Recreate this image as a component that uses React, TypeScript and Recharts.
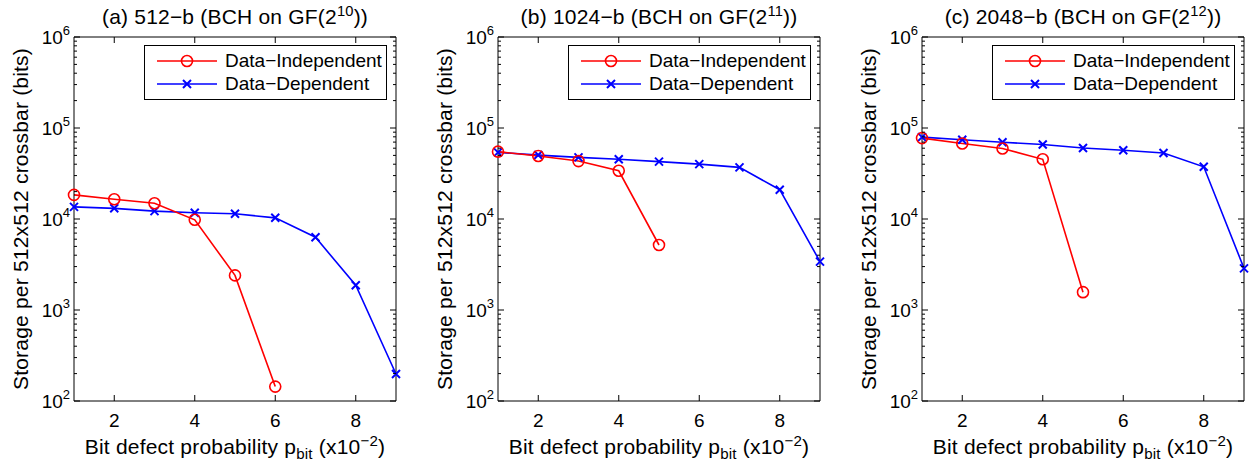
import React from 'react';
import { LineChart, Line, XAxis, YAxis } from 'recharts';

// bit defect probability (x10^-2)
const pBit = [1, 2, 3, 4, 5, 6, 7, 8, 9];
const xTicks = [2, 4, 6, 8];
const yTicks = [1e2, 1e3, 1e4, 1e5, 1e6];

// storage per 512x512 crossbar (bits)
const indep512 = [18400, 16500, 14900, 9800, 2400, 144];
const dep512 = [13600, 13100, 12200, 11700, 11400, 10300, 6300, 1870, 198];
const indep1024 = [55000, 49200, 43300, 33900, 5180];
const dep1024 = [54000, 50400, 47600, 45300, 42700, 40100, 36900, 21000, 3400];
const indep2048 = [77400, 67500, 59500, 45300, 1570];
const dep2048 = [79400, 74200, 69800, 65900, 60400, 57000, 53200, 37500, 2870];

const RED = '#ff0000';
const BLUE = '#0000ff';
const FONT = '"Liberation Sans", Arial, Helvetica, sans-serif';

const minorTicks: number[] = [];
[1e2, 1e3, 1e4, 1e5].forEach((d) => {
  for (let m = 2; m <= 9; m++) minorTicks.push(m * d);
});
const allYTicks = [...yTicks, ...minorTicks].sort((a, b) => a - b);

const toRows = (vals: number[]) => vals.map((v, i) => ({ p: pBit[i], v }));

const W = 420;
const H = 470;
const PLOT_T = 37;
const PLOT_L = 74;
const PLOT_R = 396;
const CX = (PLOT_L + PLOT_R) / 2;
const Y_MARGIN = 4;
const X_MARGIN = 13;

const YTick = (props: any) => {
  const { x, y, payload } = props;
  const v = payload.value;
  const exp = Math.log10(v);
  const major = Math.abs(exp - Math.round(exp)) < 1e-6;
  const len = major ? 6 : 3;
  const ax = x + Y_MARGIN;
  return (
    <g>
      <line x1={ax} y1={y} x2={ax + len} y2={y} stroke="#000" />
      <line x1={PLOT_R} y1={y} x2={PLOT_R - len} y2={y} stroke="#000" />
      {major && (
        <text x={x} y={y} dy="0.36em" textAnchor="end" fontSize={19} fontFamily={FONT} fill="#000">
          <tspan>10</tspan>
          <tspan dy={-9} fontSize={13}>{Math.round(exp)}</tspan>
        </text>
      )}
    </g>
  );
};

const XTick = (props: any) => {
  const { x, y, payload } = props;
  const ay = y - X_MARGIN;
  return (
    <g>
      <line x1={x} y1={ay} x2={x} y2={ay - 6} stroke="#000" />
      <line x1={x} y1={PLOT_T} x2={x} y2={PLOT_T + 6} stroke="#000" />
      <text x={x} y={y} dy="0.71em" textAnchor="middle" fontSize={19} fontFamily={FONT} fill="#000">
        {payload.value}
      </text>
    </g>
  );
};

const CrossDot = (props: any) => {
  const { cx, cy } = props;
  if (cx == null || cy == null) return null;
  const s = 4;
  return (
    <path
      d={`M${cx - s},${cy - s}L${cx + s},${cy + s}M${cx - s},${cy + s}L${cx + s},${cy - s}`}
      stroke={BLUE}
      strokeWidth={2}
      fill="none"
    />
  );
};

interface PanelProps {
  left: number;
  title: React.ReactNode;
  indep: number[];
  dep: number[];
}

const labelStyle: React.CSSProperties = {
  position: 'absolute',
  fontSize: 21,
  letterSpacing: 0.2,
  whiteSpace: 'nowrap',
};

const Panel: React.FC<PanelProps> = ({ left, title, indep, dep }) => {
  const logAxis = { type: 'number' as const, scale: 'log' as const, domain: [100, 1e6], allowDataOverflow: true };
  const tl = { stroke: '#000' };
  return (
    <div style={{ position: 'absolute', left, top: 0, width: W, height: H, fontFamily: FONT }}>
      <LineChart width={W} height={H} margin={{ top: PLOT_T, right: W - PLOT_R, bottom: 39, left: 0 }}>
        <XAxis
          xAxisId="b"
          dataKey="p"
          type="number"
          domain={[1, 9]}
          ticks={xTicks}
          interval={0}
          height={30}
          tickSize={0}
          tickMargin={X_MARGIN}
          tickLine={false}
          tick={<XTick />}
          axisLine={tl}
          allowDuplicatedCategory={false}
        />
        <XAxis xAxisId="t" orientation="top" type="number" domain={[1, 9]} height={2} mirror tick={false} tickLine={false} axisLine={tl} />
        <YAxis
          yAxisId="l"
          {...logAxis}
          ticks={allYTicks}
          interval={0}
          width={PLOT_L}
          tickSize={0}
          tickMargin={Y_MARGIN}
          tickLine={false}
          tick={<YTick />}
          axisLine={tl}
        />
        <YAxis yAxisId="r" orientation="right" {...logAxis} width={2} mirror tick={false} tickLine={false} axisLine={tl} />
        <Line
          xAxisId="b"
          yAxisId="l"
          data={toRows(dep)}
          dataKey="v"
          stroke={BLUE}
          strokeWidth={1.6}
          dot={<CrossDot />}
          isAnimationActive={false}
          name="Data-Dependent"
        />
        <Line
          xAxisId="b"
          yAxisId="l"
          data={toRows(indep)}
          dataKey="v"
          stroke={RED}
          strokeWidth={1.6}
          dot={{ r: 5.5, stroke: RED, strokeWidth: 1.6, fill: 'none' }}
          isAnimationActive={false}
          name="Data-Independent"
        />
      </LineChart>

      <div style={{ ...labelStyle, left: CX, top: 16, transform: 'translate(-50%, -50%)' }}>{title}</div>
      <div style={{ ...labelStyle, left: CX, top: 447, transform: 'translate(-50%, -50%)' }}>
        Bit defect probability p<sub style={{ fontSize: '0.72em' }}>bit</sub> (x10<sup style={{ fontSize: '0.72em' }}>−2</sup>)
      </div>
      <div style={{ ...labelStyle, left: 21, top: 219, transform: 'translate(-50%, -50%) rotate(-90deg)' }}>
        Storage per 512x512 crossbar (bits)
      </div>

      <div style={{ position: 'absolute', left: PLOT_L + 70, top: 45, width: 241, height: 53, border: '1px solid #000', background: '#fff', fontSize: 19 }}>
        {[
          { label: 'Data−Independent', color: RED, mark: 'o' },
          { label: 'Data−Dependent', color: BLUE, mark: 'x' },
        ].map((it, i) => (
          <div key={it.label} style={{ position: 'absolute', left: 0, top: 4 + i * 23, height: 22, display: 'flex', alignItems: 'center' }}>
            <svg width={80} height={22}>
              <line x1={12} y1={11} x2={72} y2={11} stroke={it.color} strokeWidth={1.6} />
              {it.mark === 'o' ? (
                <circle cx={42} cy={11} r={5.5} stroke={RED} strokeWidth={1.6} fill="none" />
              ) : (
                <path d="M38,7L46,15M38,15L46,7" stroke={BLUE} strokeWidth={2} fill="none" />
              )}
            </svg>
            <span style={{ whiteSpace: 'nowrap' }}>{it.label}</span>
          </div>
        ))}
      </div>
    </div>
  );
};

const sup = (s: string) => <sup style={{ fontSize: '0.7em' }}>{s}</sup>;

export default function App() {
  return (
    <div style={{ position: 'absolute', left: 0, top: 0, width: 1259, height: 470, background: '#fff' }}>
      <Panel left={0} title={<>(a) 512−b (BCH on GF(2{sup('10')}))</>} indep={indep512} dep={dep512} />
      <Panel left={424} title={<>(b) 1024−b (BCH on GF(2{sup('11')}))</>} indep={indep1024} dep={dep1024} />
      <Panel left={848} title={<>(c) 2048−b (BCH on GF(2{sup('12')}))</>} indep={indep2048} dep={dep2048} />
    </div>
  );
}
